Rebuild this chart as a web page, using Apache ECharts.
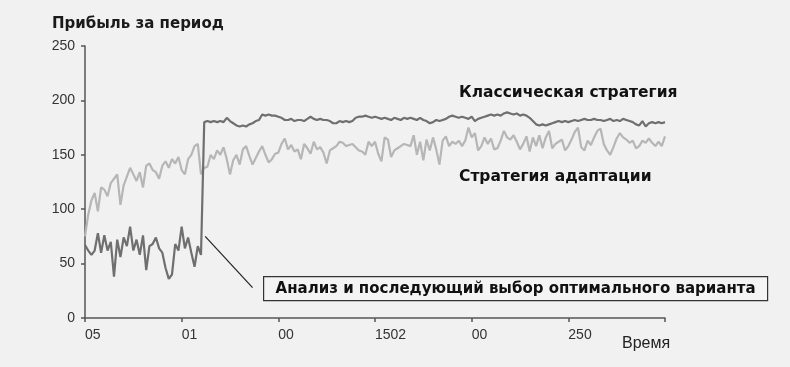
<!DOCTYPE html>
<html>
<head>
<meta charset="utf-8">
<script src="https://cdn.jsdelivr.net/npm/echarts@6/dist/echarts.min.js"></script>
<style>
  html, body { margin: 0; padding: 0; background: #f1f1f1; }
  #chart { width: 790px; height: 367px; }
</style>
</head>
<body>
<div id="chart"></div>
<script>
// X tick labels (one per 30 periods), last tick unlabeled
const xTickLabels = ["05", "01", "00", "1502", "00", "250", ""];
const yTicks = [0, 50, 100, 150, 200, 250];

// Классическая стратегия (dark line), 181 periods
const classicValues = [
  67, 62, 58, 62, 78, 60, 76, 62, 70, 38, 72, 56, 74, 66, 84, 62, 72, 58, 76, 44,
  66, 68, 74, 64, 60, 46, 36, 40, 68, 62, 84, 64, 74, 60, 47, 66, 58,
  180, 181, 180, 181, 180, 181, 180, 184, 181, 179, 177, 176, 177, 176, 178, 179, 181, 182,
  187, 186, 187, 186, 186, 185, 184, 182, 182, 183, 181, 182, 182, 181, 183, 185, 183, 182,
  183, 182, 182, 181, 179, 179, 181, 180, 181, 180, 181, 184, 185, 185, 186, 185, 184, 185,
  184, 183, 184, 183, 182, 184, 183, 182, 184, 183, 184, 183, 182, 184, 182, 181, 179, 180,
  182, 181, 182, 183, 185, 186, 185, 184, 185, 184, 183, 185, 181, 183, 184, 185, 186, 187,
  186, 187, 186, 188, 189, 188, 187, 188, 186, 187, 186, 184, 181, 178, 177, 178, 177, 178,
  179, 180, 181, 180, 181, 180, 181, 182, 181, 182, 183, 182, 182, 183, 182, 182, 181, 182,
  183, 181, 182, 181, 183, 182, 181, 180, 178, 177, 181, 176, 179, 180, 179, 180, 179, 180
];

// Стратегия адаптации (light line), 181 periods
const adaptValues = [
  75, 95, 108, 115, 98, 120, 118, 112, 124, 128, 132, 104, 122, 130, 138, 132, 126, 134, 120, 140,
  142, 136, 134, 128, 140, 144, 138, 146, 142, 148, 136, 132, 146, 150, 158, 160, 132,
  138, 139, 150, 146, 154, 150, 157, 146, 132, 145, 150, 141, 155, 158, 149, 141, 147, 153,
  158, 150, 143, 146, 151, 152, 160, 165, 155, 159, 153, 155, 146, 160, 156, 151, 162, 155,
  157, 152, 142, 154, 156, 158, 162, 161, 158, 159, 160, 157, 154, 153, 150, 162, 158, 162,
  151, 144, 166, 164, 148, 154, 156, 158, 160, 159, 158, 168, 150, 162, 145, 164, 154, 166,
  155, 141, 163, 167, 158, 162, 160, 163, 158, 163, 175, 166, 170, 154, 158, 166, 160, 165,
  155, 156, 163, 172, 166, 164, 168, 162, 155, 160, 167, 153, 166, 158, 168, 156, 166, 172,
  156, 160, 162, 164, 154, 158, 164, 171, 175, 157, 154, 163, 159, 166, 172, 174, 160, 154,
  150, 157, 165, 170, 166, 164, 161, 163, 156, 158, 163, 161, 165, 161, 158, 162, 158, 167
];

// Leader line of the annotation, in data units [period, value]
const leaderStart = [37.3, 75];
const leaderEnd = [52, 28];

const titleText = "Прибыль за период";
const classicName = "Классическая стратегия";
const adaptName = "Стратегия адаптации";
const annotationText = "Анализ и последующий выбор оптимального варианта";
const xAxisName = "Время";

const toPairs = arr => arr.map((v, i) => [i, v]);
const FONT = "'Liberation Sans', Arial, Helvetica, sans-serif";
const BOLD = "'DejaVu Sans', 'Liberation Sans', sans-serif";

const chart = echarts.init(document.getElementById('chart'), null, { renderer: 'canvas' });
chart.setOption({
  backgroundColor: '#f1f1f1',
  animation: false,
  textStyle: { fontFamily: FONT },
  title: {
    text: titleText,
    left: 47, top: 12,
    textStyle: { fontFamily: BOLD, fontSize: 15, fontWeight: 'bold', color: '#1a1a1a' }
  },
  grid: { left: 85, right: 125, top: 46, bottom: 49, containLabel: false },
  xAxis: {
    type: 'value', min: 0, max: 180, interval: 30,
    axisLine: { lineStyle: { color: '#555', width: 1.5 } },
    axisTick: { show: true, length: 4, lineStyle: { color: '#555', width: 1.5 } },
    splitLine: { show: false },
    axisLabel: {
      fontFamily: FONT, fontSize: 14, color: '#333', margin: 10, align: 'left',
      formatter: v => xTickLabels[Math.round(v / 30)] || ''
    }
  },
  yAxis: {
    type: 'value', min: 0, max: 250, interval: 50,
    axisLine: { show: true, lineStyle: { color: '#555', width: 1.5 } },
    axisTick: { show: true, length: 4, lineStyle: { color: '#555', width: 1.5 } },
    splitLine: { show: false },
    axisLabel: { fontFamily: FONT, fontSize: 14, color: '#333', margin: 10 }
  },
  series: [
    {
      name: adaptName, type: 'line', data: toPairs(adaptValues),
      showSymbol: false, symbol: 'none',
      lineStyle: { color: '#b6b6b6', width: 2.2 }, z: 2
    },
    {
      name: classicName, type: 'line', data: toPairs(classicValues),
      showSymbol: false, symbol: 'none',
      lineStyle: { color: '#6f6f6f', width: 2.2 }, z: 3,
      markLine: {
        silent: true, symbol: ['none', 'none'], label: { show: false },
        lineStyle: { color: '#222', width: 1.2, type: 'solid' },
        data: [[{ coord: leaderStart }, { coord: leaderEnd }]]
      }
    }
  ],
  graphic: [
    {
      type: 'text', left: 622, top: 336,
      style: { text: xAxisName, font: "16px " + FONT, fill: '#222' }
    },
    {
      type: 'text', left: 459, top: 85,
      style: { text: classicName, font: "bold 15.5px " + BOLD, fill: '#111' }
    },
    {
      type: 'text', left: 459, top: 169,
      style: { text: adaptName, font: "bold 15.5px " + BOLD, fill: '#111' }
    },
    {
      type: 'group', left: 263, top: 276,
      children: [
        { type: 'rect', shape: { x: 0, y: 0, width: 504, height: 24 },
          style: { fill: '#f4f4f4', stroke: '#333', lineWidth: 1.2 } },
        { type: 'text', x: 252, y: 12.5,
          style: { text: annotationText, font: "bold 15px " + BOLD, fill: '#111', align: 'center', verticalAlign: 'middle' } }
      ]
    }
  ]
});
</script>
</body>
</html>
